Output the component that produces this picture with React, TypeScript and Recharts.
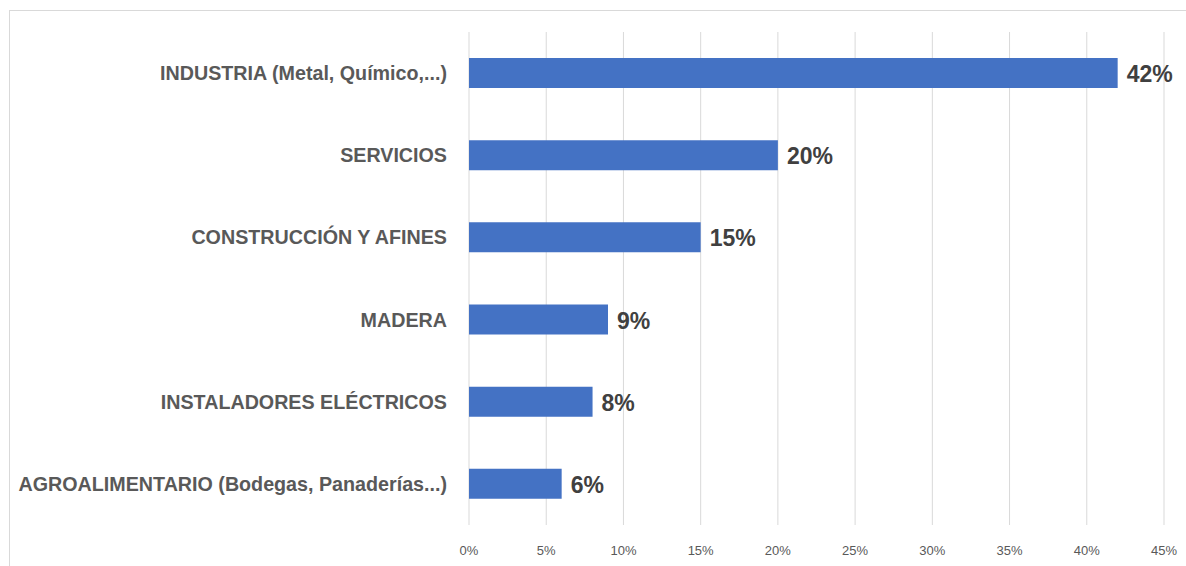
import React from "react";
import { BarChart, Bar, XAxis, YAxis, CartesianGrid, LabelList } from "recharts";

const categories = [
  "INDUSTRIA (Metal, Químico,...)",
  "SERVICIOS",
  "CONSTRUCCIÓN Y AFINES",
  "MADERA",
  "INSTALADORES ELÉCTRICOS",
  "AGROALIMENTARIO (Bodegas, Panaderías...)",
];
const values = [42, 20, 15, 9, 8, 6];
const xTicks = [0, 5, 10, 15, 20, 25, 30, 35, 40, 45];

const data = categories.map((name, i) => ({ name, value: values[i] }));

const FONT = "'Liberation Sans Narrow', 'Arial Narrow', sans-serif";

const XTick = (props: any) => {
  const { x, y, payload } = props;
  return (
    <text x={x} y={y + 22} textAnchor="middle" fill="#595959" fontSize={13} fontFamily={FONT}>
      {payload.value}%
    </text>
  );
};

const YTick = (props: any) => {
  const { x, y, payload } = props;
  return (
    <text x={x - 14} y={y + 7} textAnchor="end" fill="#595959" fontSize={19.7} fontWeight="bold" fontFamily={FONT}>
      {payload.value}
    </text>
  );
};

const ValueLabel = (props: any) => {
  const { x, y, width, height, value } = props;
  return (
    <text x={x + width + 9} y={y + height / 2 + 9} textAnchor="start" fill="#404040" fontSize={23} fontWeight="bold" fontFamily={FONT}>
      {value}%
    </text>
  );
};

export default function App() {
  return (
    <div style={{ position: "absolute", left: 0, top: 0, width: 1186, height: 566, background: "#fff" }}>
      <div
        style={{
          position: "absolute",
          left: 9,
          top: 10,
          width: 1186 - 9,
          height: 566 - 10,
          borderLeft: "1px solid #d9d9d9",
          borderTop: "1px solid #d9d9d9",
          boxSizing: "border-box",
        }}
      />
      <div style={{ position: "absolute", left: 0, top: 0 }}>
        <BarChart
          width={1186}
          height={566}
          data={data}
          layout="vertical"
          margin={{ top: 32, right: 22, bottom: 0, left: 0 }}
          barCategoryGap={26}
        >
          <CartesianGrid horizontal={false} stroke="#d9d9d9" strokeWidth={1} />
          <XAxis
            type="number"
            domain={[0, 45]}
            ticks={xTicks}
            axisLine={false}
            tickLine={false}
            height={41}
            tick={<XTick />}
            interval={0}
          />
          <YAxis
            type="category"
            dataKey="name"
            width={469}
            axisLine={false}
            tickLine={false}
            tick={<YTick />}
            interval={0}
          />
          <Bar dataKey="value" fill="#4472C4" isAnimationActive={false} barSize={30}>
            <LabelList dataKey="value" content={<ValueLabel />} />
          </Bar>
        </BarChart>
      </div>
    </div>
  );
}
